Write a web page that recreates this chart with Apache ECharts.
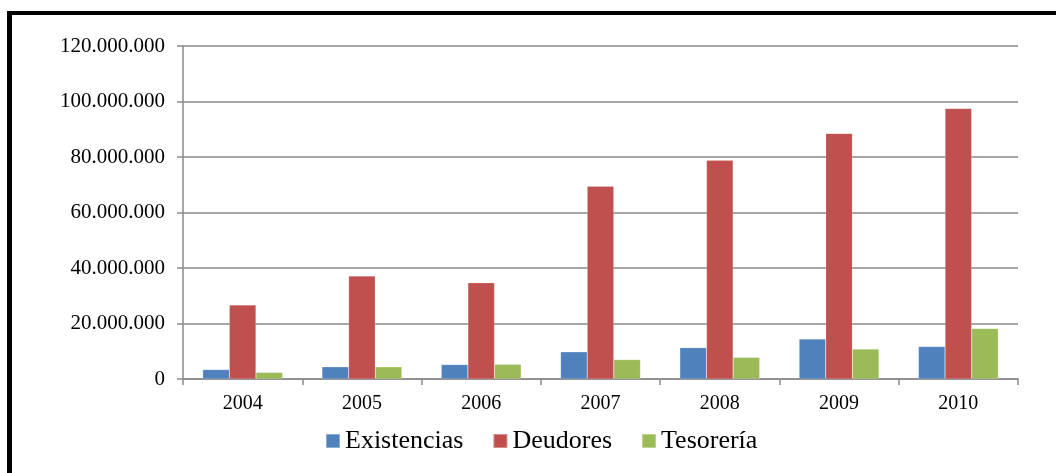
<!DOCTYPE html>
<html lang="es">
<head>
    <meta charset="UTF-8">
    <title>Existencias, Deudores, Tesorería</title>
    <script src="https://cdn.jsdelivr.net/npm/echarts@6/dist/echarts.min.js"></script>
    <style>
        html, body { margin: 0; padding: 0; background: #fff; }
        #chart { width: 1056px; height: 473px; }
    </style>
</head>
<body>
<div id="chart"></div>
<script type="text/javascript">
    var years = ['2004', '2005', '2006', '2007', '2008', '2009', '2010'];
    var existencias = [3400000, 4400000, 5200000, 9800000, 11300000, 14400000, 11700000];
    var deudores = [26700000, 37100000, 34700000, 69500000, 78800000, 88500000, 97500000];
    var tesoreria = [2400000, 4400000, 5300000, 7000000, 7800000, 10800000, 18200000];

    var serif = "'Liberation Serif', 'Times New Roman', serif";
    var gray = '#8a8a8a';

    function fmt(v) {
        return String(v).replace(/\B(?=(\d{3})+(?!\d))/g, '.');
    }

    function bar(name, data, color) {
        return {
            name: name,
            type: 'bar',
            data: data,
            barGap: '0%',
            barCategoryGap: '33%',
            itemStyle: { color: color, borderColor: 'rgba(255,255,255,0.35)', borderWidth: 0.5 }
        };
    }

    var chart = echarts.init(document.getElementById('chart'));
    chart.setOption({
        animation: false,
        grid: { left: 183, right: 38, top: 46, bottom: 94 },
        legend: {
            left: 320,
            top: 423,
            padding: 5,
            itemWidth: 14,
            itemHeight: 14,
            itemGap: 29,
            icon: 'rect',
            textStyle: { fontFamily: serif, fontSize: 26, color: '#000' },
            data: ['Existencias', 'Deudores', 'Tesorería']
        },
        xAxis: {
            type: 'category',
            data: years,
            axisLine: { lineStyle: { color: gray, width: 1.5 } },
            axisTick: { show: true, length: 6, lineStyle: { color: gray, width: 1.5 } },
            axisLabel: { fontFamily: serif, fontSize: 20, color: '#000', margin: 15 }
        },
        yAxis: {
            type: 'value',
            min: 0,
            max: 120000000,
            interval: 20000000,
            axisLine: { show: true, lineStyle: { color: gray, width: 1.5 } },
            axisTick: { show: true, length: 6, lineStyle: { color: gray, width: 1.5 } },
            splitLine: { lineStyle: { color: gray, width: 1.5 } },
            axisLabel: { fontFamily: serif, fontSize: 21, color: '#000', margin: 18, formatter: fmt }
        },
        graphic: [
            { type: 'rect', shape: { x: 7, y: 11, width: 5, height: 473 }, style: { fill: '#000' } },
            { type: 'rect', shape: { x: 7, y: 11, width: 1049, height: 4 }, style: { fill: '#000' } }
        ],
        series: [
            bar('Existencias', existencias, '#4f81bd'),
            bar('Deudores', deudores, '#c0504d'),
            bar('Tesorería', tesoreria, '#9bbb59')
        ]
    });
</script>
</body>
</html>
